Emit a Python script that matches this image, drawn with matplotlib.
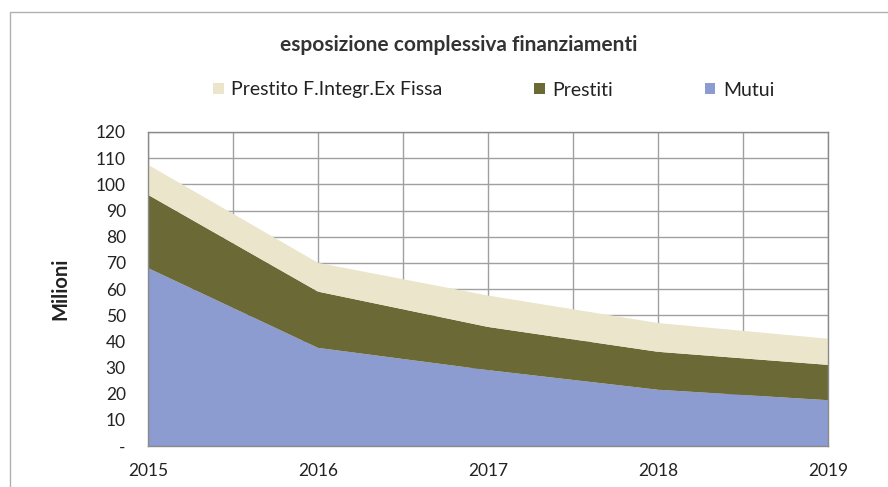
import matplotlib.pyplot as plt
from matplotlib.patches import Rectangle

# data (millions)
years = [2015, 2016, 2017, 2018, 2019]
mutui = [68, 37.5, 29, 21.5, 17.5]
prestiti = [28, 21.5, 16.5, 14.5, 13.5]
prestito_integr = [11.5, 11, 12, 11, 10]
series_names = ['Mutui', 'Prestiti', 'Prestito F.Integr.Ex Fissa']
colors = ['#8c9bd0', '#6b6a36', '#ebe5cb']
y_ticks = list(range(0, 121, 10))
y_labels = ['-'] + [str(v) for v in y_ticks[1:]]

plt.rcParams['font.family'] = ['Lato', 'DejaVu Sans']

fig = plt.figure(figsize=(8.88, 4.87), dpi=100)
ax = fig.add_axes([148 / 888, 1 - 446 / 487, 680 / 888, 314 / 487])

polys = ax.stackplot(years, mutui, prestiti, prestito_integr,
                     labels=series_names, colors=colors, zorder=2)

ax.set_xlim(years[0], years[-1])
ax.set_ylim(0, 120)
ax.set_yticks(y_ticks)
ax.set_yticklabels(y_labels)
ax.set_xticks(years)
ax.set_xticks([y + 0.5 for y in years[:-1]], minor=True)
ax.tick_params(which='both', length=0, labelsize=12.5, colors='#222222')
ax.tick_params(axis='x', pad=12)
ax.tick_params(axis='y', pad=16)
ax.grid(True, which='both', color='#a0a0a0', linewidth=1, zorder=0)
ax.set_axisbelow(True)
for s in ax.spines.values():
    s.set_color('#8a8a8a')
    s.set_linewidth(1)

ax.set_ylabel('Milioni', fontsize=14.5, fontweight='bold', labelpad=18, color='#222222')

fig.text(0.516, 1 - 45 / 487, 'esposizione complessiva finanziamenti',
         ha='center', va='center', fontsize=15, fontweight='bold', color='#333333')

handles = polys[::-1]
fig.legend(handles, series_names[::-1], loc='center', ncol=3,
           bbox_to_anchor=(0.556, 1 - 90 / 487), frameon=False, fontsize=14,
           handlelength=0.55, handleheight=0.55, handletextpad=0.4, columnspacing=4.7,
           labelcolor='#222222')

fig.patches.append(Rectangle((10 / 888, -0.05), 0.99, 1 - 12 / 487 + 0.05,
                             transform=fig.transFigure, fill=False,
                             edgecolor='#b0b0b0', linewidth=1))

fig.savefig('out.png', dpi=100)
